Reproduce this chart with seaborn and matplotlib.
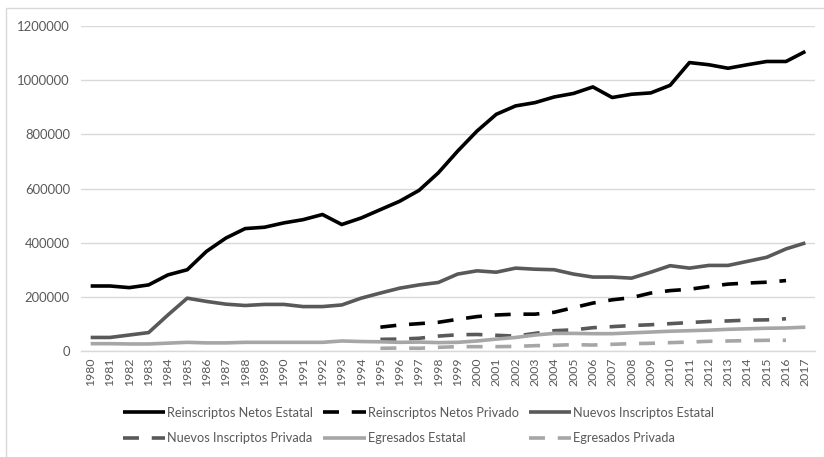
import matplotlib
matplotlib.use("Agg")
import matplotlib.pyplot as plt
from matplotlib.patches import Rectangle
import numpy as np
import pandas as pd
import seaborn as sns

# Years on the category axis
years = list(range(1980, 2018))
private_years = list(range(1995, 2017))

# Series values (students)
reinscriptos_netos_estatal = [
    240000, 240000, 234000, 244000, 281000, 300000, 368000, 417000, 452000, 457000,
    473000, 485000, 504000, 467000, 491000, 522000, 553000, 593000, 658000, 738000,
    812000, 874000, 905000, 917000, 938000, 951000, 975000, 936000, 948000, 953000,
    981000, 1065000, 1057000, 1044000, 1057000, 1069000, 1069000, 1106000,
]
reinscriptos_netos_privado = [
    88000, 96000, 101000, 106000, 117000, 127000, 133000, 136000, 136000, 143000,
    160000, 177000, 189000, 197000, 214000, 223000, 228000, 238000, 247000, 251000,
    254000, 260000,
]
nuevos_inscriptos_estatal = [
    50000, 50000, 59000, 68000, 133000, 195000, 183000, 173000, 168000, 172000,
    172000, 164000, 164000, 170000, 195000, 214000, 232000, 244000, 253000, 284000,
    296000, 291000, 306000, 302000, 300000, 284000, 273000, 273000, 269000, 291000,
    315000, 306000, 316000, 316000, 331000, 346000, 377000, 399000,
]
nuevos_inscriptos_privada = [
    43000, 44000, 47000, 55000, 60000, 61000, 58000, 55000, 65000, 75000,
    78000, 86000, 90000, 94000, 97000, 101000, 105000, 109000, 111000, 114000,
    115000, 119000,
]
egresados_estatal = [
    27000, 27000, 26000, 26000, 29000, 32000, 30000, 30000, 32000, 32000,
    32000, 32000, 32000, 37000, 35000, 34000, 32000, 33000, 31000, 32000,
    37000, 44000, 50000, 59000, 65000, 65000, 64000, 64000, 67000, 70000,
    73000, 75000, 77000, 80000, 82000, 84000, 85000, 88000,
]
egresados_privada = [
    10000, 11000, 10000, 13500, 16000, 16000, 16000, 17000, 19700, 21000,
    23500, 22000, 24700, 27200, 28400, 30900, 33000, 35800, 37000, 38300,
    39500, 39500,
]

series_names = [
    "Reinscriptos Netos Estatal",
    "Reinscriptos Netos Privado",
    "Nuevos Inscriptos Estatal",
    "Nuevos Inscriptos Privada",
    "Egresados Estatal",
    "Egresados Privada",
]
series_years = [years, private_years, years, private_years, years, private_years]
series_values = [
    reinscriptos_netos_estatal, reinscriptos_netos_privado,
    nuevos_inscriptos_estatal, nuevos_inscriptos_privada,
    egresados_estatal, egresados_privada,
]

frames = [
    pd.DataFrame({"Año": yrs, "Valor": vals, "Serie": name})
    for name, yrs, vals in zip(series_names, series_years, series_values)
]
df = pd.concat(frames, ignore_index=True)

palette = {
    "Reinscriptos Netos Estatal": "#000000",
    "Reinscriptos Netos Privado": "#000000",
    "Nuevos Inscriptos Estatal": "#595959",
    "Nuevos Inscriptos Privada": "#595959",
    "Egresados Estatal": "#a6a6a6",
    "Egresados Privada": "#a6a6a6",
}
line_width = 2.6
# dash and gap lengths in points, expressed in units of the line width
dash = (11.5 / line_width, 9.2 / line_width)
dashes = {
    "Reinscriptos Netos Estatal": "",
    "Reinscriptos Netos Privado": dash,
    "Nuevos Inscriptos Estatal": "",
    "Nuevos Inscriptos Privada": dash,
    "Egresados Estatal": "",
    "Egresados Privada": dash,
}

sns.set_theme(style="white")
plt.rcParams["font.family"] = ["Lato", "DejaVu Sans"]

fig = plt.figure(figsize=(8.24, 4.57), dpi=100)
ax = fig.add_axes([81 / 824, 1 - 351 / 457, 734 / 824, 325 / 457])

sns.lineplot(
    data=df, x="Año", y="Valor", hue="Serie", style="Serie",
    hue_order=series_names, style_order=series_names,
    palette=palette, dashes=dashes, linewidth=line_width,
    errorbar=None, legend=False, ax=ax,
)
for ln in ax.get_lines():
    ln.set_solid_capstyle("butt")
    ln.set_dash_capstyle("butt")
    ln.set_solid_joinstyle("round")

ax.set_xlim(1979.5, 2017.5)
ax.set_ylim(0, 1200000)
ax.set_xticks(years)
ax.set_xticklabels([str(y) for y in years], rotation=90, va="top", ha="center")
ax.set_yticks(np.arange(0, 1200001, 200000))
ax.set_yticklabels([f"{v:d}" for v in range(0, 1200001, 200000)])
ax.set_xlabel("")
ax.set_ylabel("")

ax.grid(axis="y", color="#d9d9d9", linewidth=1.0)
ax.grid(axis="x", visible=False)
ax.set_axisbelow(True)
for side in ["top", "right", "left"]:
    ax.spines[side].set_visible(False)
ax.spines["bottom"].set_color("#d9d9d9")
ax.spines["bottom"].set_linewidth(1.0)

ax.tick_params(axis="y", length=0, pad=8, labelsize=9.4, labelcolor="#595959")
ax.tick_params(axis="x", length=0, pad=5, labelsize=8.8, labelcolor="#595959")

# Legend in two rows, read left to right
handles = ax.get_lines()[:6]
order = [0, 3, 1, 4, 2, 5]
leg = ax.legend(
    [handles[i] for i in order], [series_names[i] for i in order],
    ncol=3, loc="center", bbox_to_anchor=(0.508, 0.069),
    bbox_transform=fig.transFigure, frameon=False,
    fontsize=9.2, handlelength=3.3, handletextpad=0.15,
    columnspacing=0.8, labelspacing=1.05, labelcolor="#595959",
)

# Outer chart frame
fig.patches.append(Rectangle(
    (6 / 824, -10 / 457), 830 / 824, (457 - 8 + 10) / 457,
    transform=fig.transFigure, fill=False, edgecolor="#d9d9d9", linewidth=1.0,
))

fig.savefig("out.png", dpi=100)
